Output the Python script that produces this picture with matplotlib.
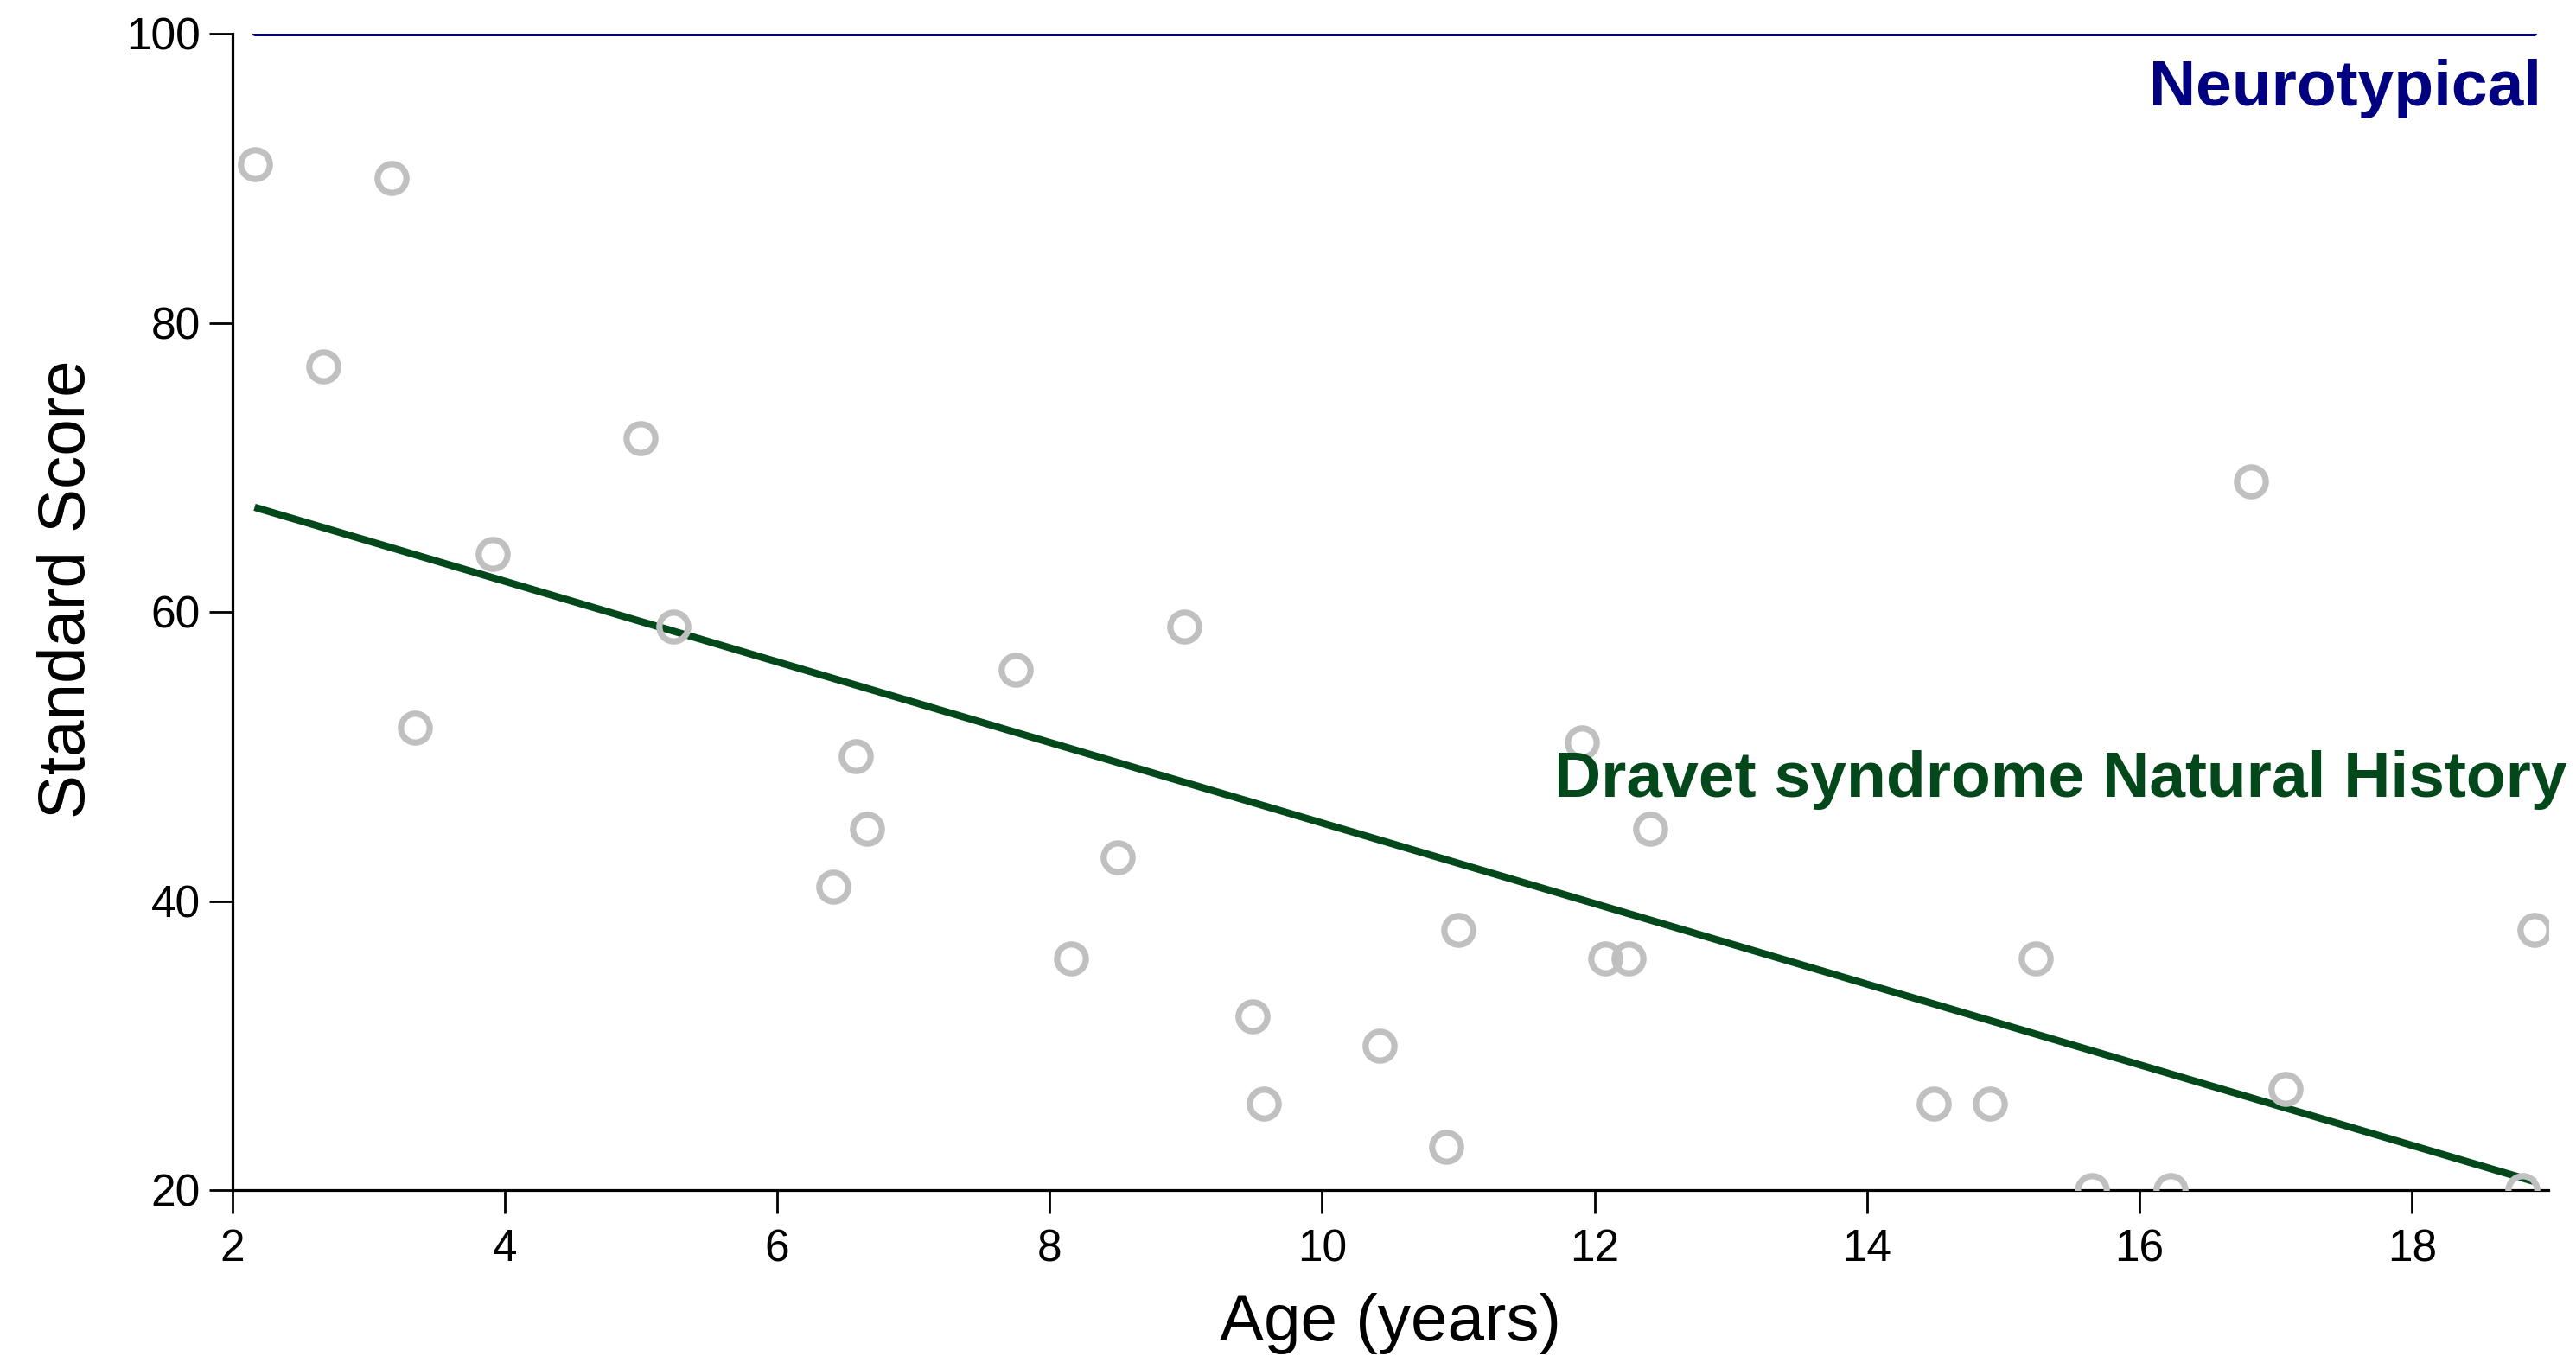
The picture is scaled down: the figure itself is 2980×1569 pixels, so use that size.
import numpy as np
import matplotlib
matplotlib.use("Agg")
import matplotlib.pyplot as plt

plt.rcParams['font.family'] = ['Liberation Sans', 'DejaVu Sans']

# patient ages (years) and standard scores
age = [2.165, 2.67, 3.17, 3.34, 3.91, 5.0, 5.24, 6.41, 6.58, 6.66, 7.75,
       8.16, 8.50, 8.99, 9.49, 9.57, 10.42, 10.91, 11.0, 11.91, 12.08,
       12.25, 12.41, 14.49, 14.90, 15.24, 15.65, 16.23, 16.82, 17.07,
       18.81, 18.90]
score = [91, 77, 90, 52, 64, 72, 59, 41, 50, 45, 56, 36, 43, 59, 32, 26,
         30, 23, 38, 51, 36, 36, 45, 26, 26, 36, 20, 20, 69, 27, 20, 38]
neurotypical_score = 100

x_ticks = [2, 4, 6, 8, 10, 12, 14, 16, 18]
y_ticks = [20, 40, 60, 80, 100]

navy = '#000080'
green = '#02481a'
grey = '#c0c0c0'

fig = plt.figure(figsize=(29.8, 15.69), dpi=100)
W, H = 2980, 1569
ax = fig.add_axes([268.5 / W, 1 - 1377 / H, (2948 - 268.5) / W, (1377 - 39) / H])

age = np.array(age)
score = np.array(score)

# linear fit of score on age
slope, intercept = np.polyfit(age, score, 1)
fit_x = np.array([age.min(), age.max()])
fit_y = intercept + slope * fit_x

ax.plot(fit_x, [neurotypical_score] * 2, color=navy, lw=4.3,
        solid_capstyle='round', zorder=3)
ax.plot(fit_x, fit_y, color=green, lw=6, solid_capstyle='butt', zorder=3)
ax.plot(age, score, 'o', ms=24, mfc='none', mec=grey, mew=5.2, zorder=4)

ax.text(18.95, 95.05, 'Neurotypical', color=navy, fontsize=54,
        fontweight='bold', ha='right', va='baseline', zorder=5)
ax.text(19.14, 47.2, 'Dravet syndrome Natural History', color=green,
        fontsize=54, fontweight='bold', ha='right', va='baseline',
        zorder=5, clip_on=False)

ax.set_xlim(2, 19)
ax.set_ylim(20, 100)
ax.set_xticks(x_ticks)
ax.set_yticks(y_ticks)
ax.spines['top'].set_visible(False)
ax.spines['right'].set_visible(False)
for s in ['left', 'bottom']:
    ax.spines[s].set_linewidth(2.3)
ax.tick_params(axis='both', direction='out', length=19.4, width=2.0,
               labelsize=37)
ax.tick_params(axis='x', pad=12.5)
ax.tick_params(axis='y', pad=7)

ax.set_xlabel('Age (years)', fontsize=55)
ax.set_ylabel('Standard Score', fontsize=55)
ax.xaxis.set_label_coords(0.5, -0.089)
ax.yaxis.set_label_coords(-0.0575, 0.52)

fig.savefig('out.png', dpi=100)
